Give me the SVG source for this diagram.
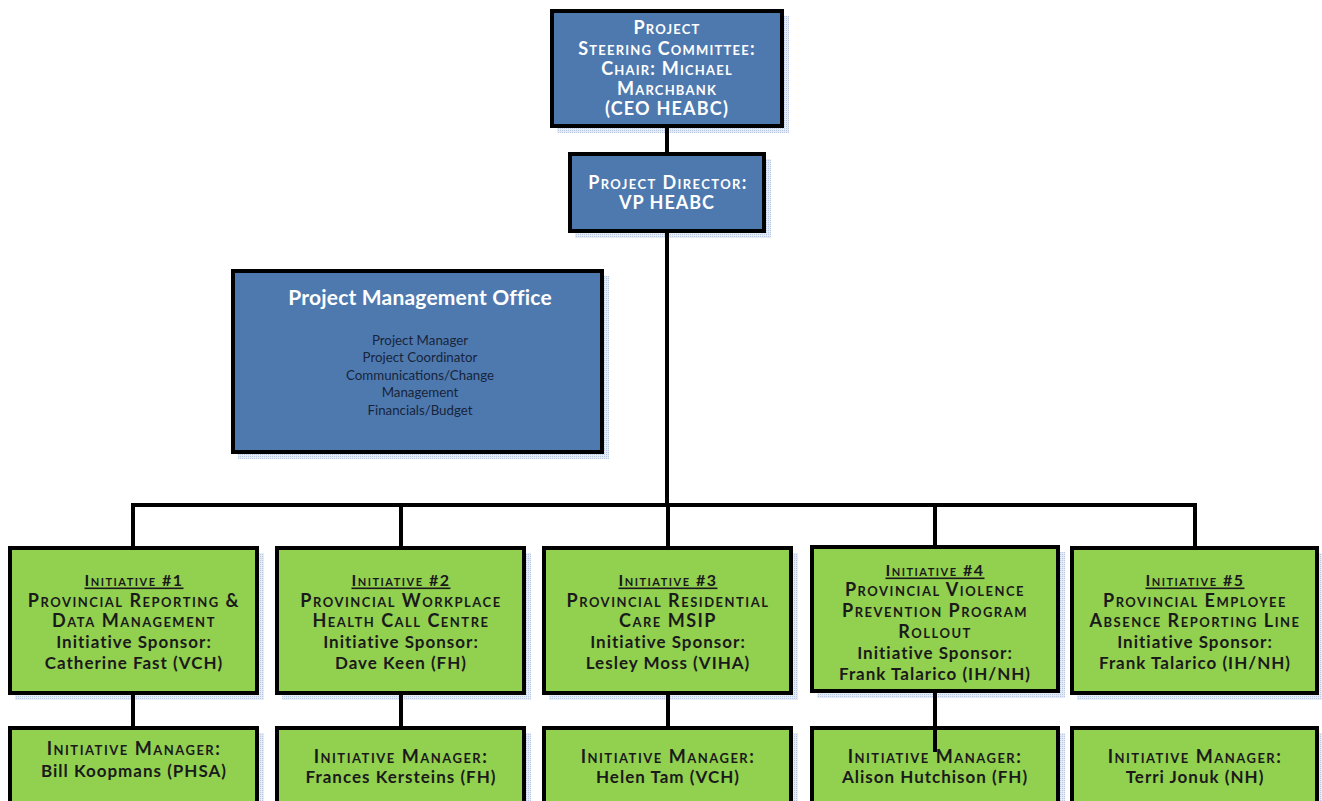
<svg xmlns="http://www.w3.org/2000/svg" width="1322" height="801" viewBox="0 0 1322 801">
<defs>
<pattern id="dots" width="2" height="2" patternUnits="userSpaceOnUse">
<rect width="2" height="2" fill="#e6ecf6"/>
<rect width="1" height="1" fill="#b9c8e2"/>
</pattern>
<style>
.shadow{fill:url(#dots);}
.blue{fill:#4e79af;stroke:#000;stroke-width:4;}
.green{fill:#92d050;stroke:#000;stroke-width:4;}
.t{font-family:"Lato","Open Sans",sans-serif;font-weight:bold;text-anchor:middle;dominant-baseline:central;}
.w{fill:#ffffff;}
.d{fill:#1a1a1a;}
.sc{font-variant:small-caps;}
.big{font-size:18px;letter-spacing:1.2px;}
.m{font-size:17px;letter-spacing:1px;}
.s{font-size:18px;letter-spacing:1.5px;}
.h{font-size:16px;letter-spacing:1.5px;text-decoration:underline;}
.pmo{font-family:"Lato","Open Sans",sans-serif;font-size:13.3px;fill:#17243a;text-anchor:middle;dominant-baseline:central;}
.ln{stroke:#000;stroke-width:4;fill:none;}
</style>
</defs>
<rect width="1322" height="801" fill="#ffffff"/>

<g id="steering">
<rect class="shadow" x="557" y="16" width="232" height="117"/>
<rect class="blue" x="552" y="11" width="230" height="115"/>
<text class="t w big sc" x="667" y="27">Project</text>
<text class="t w big sc" x="667" y="48">Steering Committee:</text>
<text class="t w big sc" x="667" y="68">Chair: Michael</text>
<text class="t w big sc" x="667" y="88">Marchbank</text>
<text class="t w big" x="667" y="108">(CEO HEABC)</text>
</g>

<g id="director">
<rect class="shadow" x="575" y="159" width="196" height="79"/>
<rect class="blue" x="570" y="154" width="194" height="77"/>
<text class="t w big sc" x="668" y="182" style="letter-spacing:1.4px">Project Director:</text>
<text class="t w big" x="667" y="202" style="letter-spacing:1px">VP HEABC</text>
</g>

<g id="pmo">
<rect class="shadow" x="238" y="276" width="371" height="183"/>
<rect class="blue" x="233" y="271" width="369" height="181"/>
<text class="t w" style="font-size:21px;letter-spacing:0.2px" x="420" y="296">Project Management Office</text>
<text class="pmo" x="420" y="340">Project Manager</text>
<text class="pmo" x="420" y="357">Project Coordinator</text>
<text class="pmo" x="420" y="375">Communications/Change</text>
<text class="pmo" x="420" y="392">Management</text>
<text class="pmo" x="420" y="410">Financials/Budget</text>
</g>

<g id="init1">
<rect class="shadow" x="15" y="553" width="249" height="147"/>
<rect class="green" x="10" y="548" width="247" height="145"/>
<text class="t d h sc" x="134" y="579">Initiative #1</text>
<text class="t d s sc" x="134" y="600">Provincial Reporting &amp;</text>
<text class="t d s sc" x="134" y="620">Data Management</text>
<text class="t d m" x="134" y="641">Initiative Sponsor:</text>
<text class="t d m" x="134" y="662">Catherine Fast (VCH)</text>
</g>

<g id="init2">
<rect class="shadow" x="282" y="553" width="249" height="147"/>
<rect class="green" x="277" y="548" width="247" height="145"/>
<text class="t d h sc" x="401" y="579">Initiative #2</text>
<text class="t d s sc" x="401" y="600">Provincial Workplace</text>
<text class="t d s sc" x="401" y="620">Health Call Centre</text>
<text class="t d m" x="401" y="641">Initiative Sponsor:</text>
<text class="t d m" x="401" y="662">Dave Keen (FH)</text>
</g>

<g id="init3">
<rect class="shadow" x="549" y="553" width="249" height="147"/>
<rect class="green" x="544" y="548" width="247" height="145"/>
<text class="t d h sc" x="668" y="579">Initiative #3</text>
<text class="t d s sc" x="668" y="600">Provincial Residential</text>
<text class="t d s sc" x="668" y="620">Care MSIP</text>
<text class="t d m" x="668" y="641">Initiative Sponsor:</text>
<text class="t d m" x="668" y="662">Lesley Moss (VIHA)</text>
</g>

<g id="init4">
<rect class="shadow" x="817" y="552" width="248" height="146"/>
<rect class="green" x="812" y="547" width="246" height="144"/>
<text class="t d h sc" x="935" y="569">Initiative #4</text>
<text class="t d s sc" x="935" y="589">Provincial Violence</text>
<text class="t d s sc" x="935" y="610">Prevention Program</text>
<text class="t d s sc" x="935" y="631">Rollout</text>
<text class="t d m" x="935" y="652">Initiative Sponsor:</text>
<text class="t d m" x="935" y="673">Frank Talarico (IH/NH)</text>
</g>

<g id="init5">
<rect class="shadow" x="1077" y="553" width="247" height="147"/>
<rect class="green" x="1072" y="548" width="245" height="145"/>
<text class="t d h sc" x="1195" y="579">Initiative #5</text>
<text class="t d s sc" x="1195" y="600">Provincial Employee</text>
<text class="t d s sc" x="1195" y="620">Absence Reporting Line</text>
<text class="t d m" x="1195" y="641">Initiative Sponsor:</text>
<text class="t d m" x="1195" y="662">Frank Talarico (IH/NH)</text>
</g>

<g id="mgr1">
<rect class="shadow" x="15" y="733" width="249" height="90"/>
<rect class="green" x="10" y="728" width="247" height="90"/>
<text class="t d s sc" x="134" y="748">Initiative Manager:</text>
<text class="t d m" x="134" y="770">Bill Koopmans (PHSA)</text>
</g>

<g id="mgr2">
<rect class="shadow" x="282" y="733" width="249" height="90"/>
<rect class="green" x="277" y="728" width="247" height="90"/>
<text class="t d s sc" x="401" y="756">Initiative Manager:</text>
<text class="t d m" x="401" y="776">Frances Kersteins (FH)</text>
</g>

<g id="mgr3">
<rect class="shadow" x="549" y="733" width="249" height="90"/>
<rect class="green" x="544" y="728" width="247" height="90"/>
<text class="t d s sc" x="668" y="756">Initiative Manager:</text>
<text class="t d m" x="668" y="776">Helen Tam (VCH)</text>
</g>

<g id="mgr4">
<rect class="shadow" x="817" y="733" width="248" height="90"/>
<rect class="green" x="812" y="728" width="246" height="90"/>
<text class="t d s sc" x="935" y="756">Initiative Manager:</text>
<text class="t d m" x="935" y="776">Alison Hutchison (FH)</text>
</g>

<g id="mgr5">
<rect class="shadow" x="1077" y="733" width="247" height="90"/>
<rect class="green" x="1072" y="728" width="245" height="90"/>
<text class="t d s sc" x="1195" y="756">Initiative Manager:</text>
<text class="t d m" x="1195" y="776">Terri Jonuk (NH)</text>
</g>

<g id="connectors">
<line class="ln" x1="667" y1="128" x2="667" y2="152"/>
<line class="ln" x1="667" y1="233" x2="667" y2="505"/>
<line class="ln" x1="131" y1="505" x2="1197" y2="505"/>
<line class="ln" x1="133" y1="505" x2="133" y2="546"/>
<line class="ln" x1="401" y1="505" x2="401" y2="546"/>
<line class="ln" x1="668" y1="505" x2="668" y2="546"/>
<line class="ln" x1="935" y1="505" x2="935" y2="545"/>
<line class="ln" x1="1195" y1="505" x2="1195" y2="546"/>
<line class="ln" x1="133" y1="695" x2="133" y2="726"/>
<line class="ln" x1="401" y1="695" x2="401" y2="726"/>
<line class="ln" x1="668" y1="695" x2="668" y2="726"/>
<line class="ln" x1="935" y1="693" x2="935" y2="752"/>
</g>
</svg>
